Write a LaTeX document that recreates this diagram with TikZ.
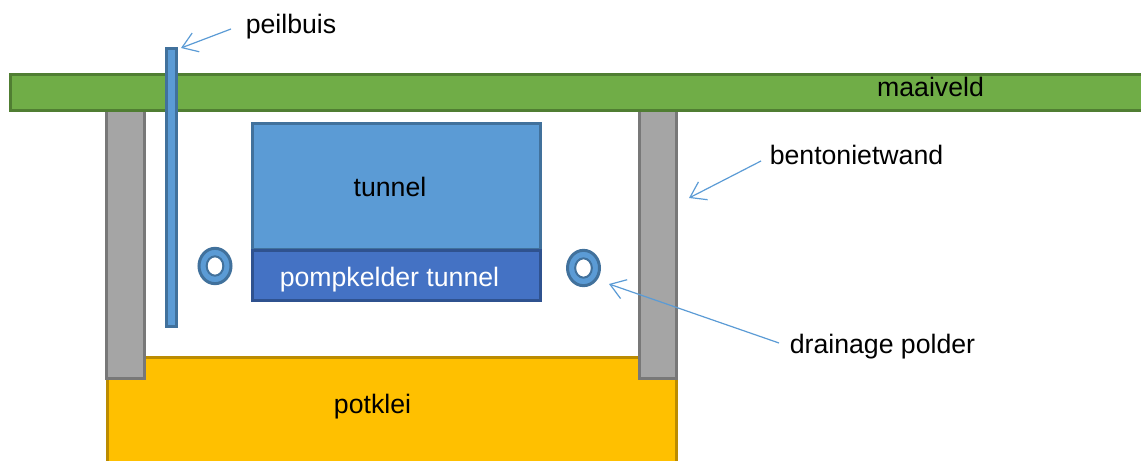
\documentclass[tikz,border=0pt]{standalone}
\usepackage{fontspec}
\setmainfont{Liberation Sans}
\usetikzlibrary{arrows.meta,calc,shapes.geometric}
\definecolor{grn}{HTML}{70AD47}\definecolor{grnd}{HTML}{507E32}
\definecolor{blu}{HTML}{5B9BD5}\definecolor{blud}{HTML}{41719C}
\definecolor{dblu}{HTML}{4472C4}\definecolor{dblud}{HTML}{2F528F}
\definecolor{gry}{HTML}{A5A5A5}\definecolor{gryd}{HTML}{787878}
\definecolor{yel}{HTML}{FFC000}\definecolor{yeld}{HTML}{BC8C00}
\tikzset{
 box/.style={rectangle,draw,line width=2.25pt,inner sep=0pt,outer sep=0pt},
 lab/.style={inner sep=0pt,font=\fontsize{20pt}{22pt}\selectfont,text=black,anchor=base},
 pointer/.style={draw=blu,line width=0.9pt,-{Straight Barb[length=11pt,width=15pt,line width=0.9pt]}},
}
\newcommand{\rectpx}[6]{% style,name,x1,y1,x2,y2
 \node[#1,minimum width=#5*0.75pt-#3*0.75pt,minimum height=#6*0.75pt-#4*0.75pt] (#2) at ({(#3+#5)/2},{(#4+#6)/2}) {};}
\begin{document}
\begin{tikzpicture}[x=0.75pt,y=-0.75pt]
\useasboundingbox (0,0) rectangle (1141,460);
\begin{scope}
\clip (0,0) rectangle (1141,460);
\rectpx{box,draw=yeld,fill=yel}{klei}{107}{357}{676.5}{480}
\rectpx{box,draw=gryd,fill=gry}{wandL}{106.5}{100}{144.5}{378.5}
\rectpx{box,draw=gryd,fill=gry}{wandR}{639}{100}{676.5}{378.5}
\rectpx{box,draw=grnd,fill=grn}{veld}{10}{74.5}{1160}{110.5}
\rectpx{box,draw=blud,fill=blu}{buis}{166.5}{48.5}{176.5}{326.5}
\rectpx{box,draw=blud,fill=blu}{tunnel}{252.5}{123}{540.5}{249.5}
\rectpx{box,draw=dblud,fill=dblu}{kelder}{252.5}{250.5}{540.5}{300.5}
\end{scope}
\foreach \n/\cx/\cy in {dL/215/266,dR/583.5/268}{
 \node[ellipse,draw=blud,fill=blu,line width=2.25pt,inner sep=0pt,minimum width=24pt,minimum height=26.5pt] (\n) at (\cx,\cy) {};
 \node[ellipse,draw=blud,fill=white,line width=1.5pt,inner sep=0pt,minimum width=12.5pt,minimum height=14.5pt] (\n i) at (\cx,\cy) {};
}
\node[lab] (tmaai) at (930.5,96) {maaiveld};
\node[lab] (tpeil) at (291,34) {peilbuis};
\node[lab] (tbent) at (856.5,164) {bentonietwand};
\node[lab] (ttun) at (390,196) {tunnel};
\node[lab,text=white] (tpomp) at (389.5,286) {pompkelder tunnel};
\node[lab] (tdrain) at (882.5,353) {drainage polder};
\node[lab] (tpot) at (372.5,413) {potklei};
\coordinate (a1s) at (231,29); \coordinate (a1e) at (181,48);
\coordinate (a2s) at (761,161); \coordinate (a2e) at (689,198);
\coordinate (a3s) at (779,343); \coordinate (a3e) at (609,284);
\draw[pointer] (a1s) -- (a1e);
\draw[pointer] (a2s) -- (a2e);
\draw[pointer] (a3s) -- (a3e);
\end{tikzpicture}
\end{document}
